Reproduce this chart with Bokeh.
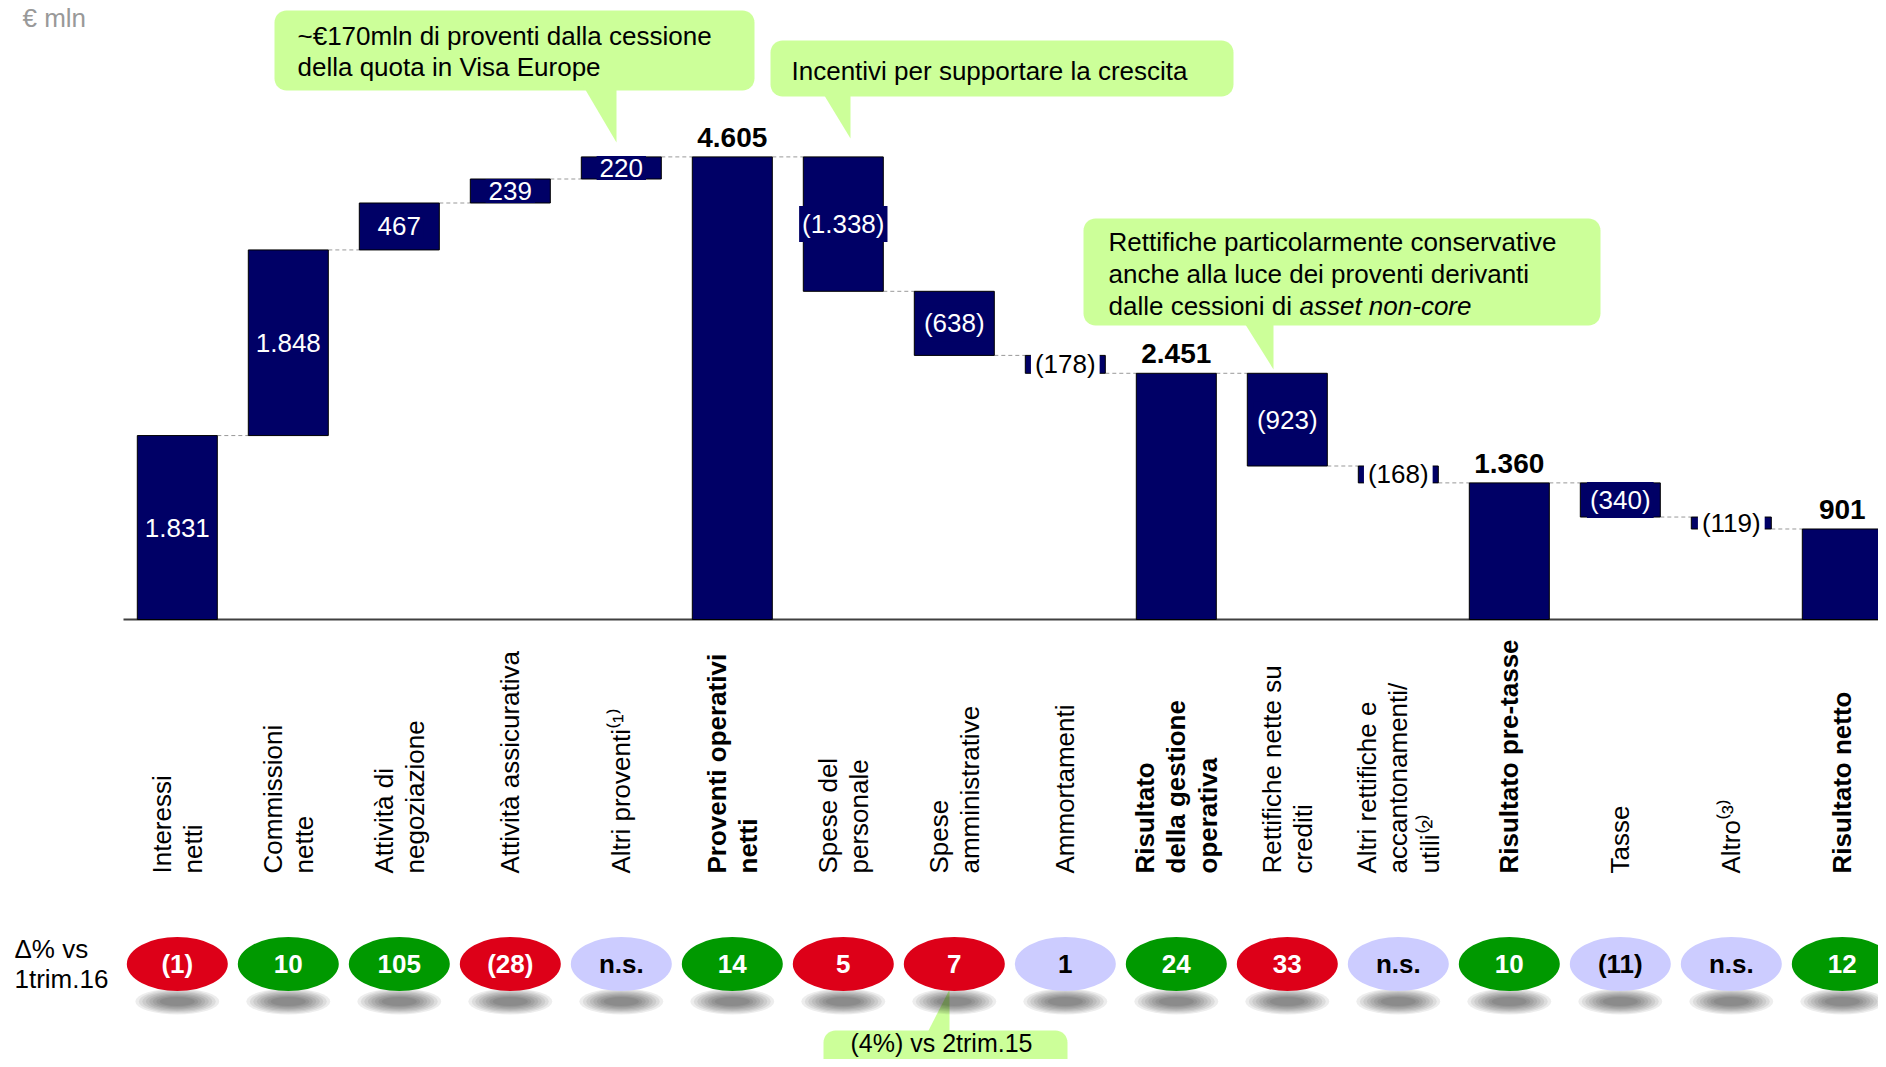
import math
from bokeh.plotting import figure
from bokeh.models import Range1d, ColumnDataSource
from bokeh.core.properties import value
from bokeh.embed import file_html
from bokeh.resources import INLINE

# ---------------- data ----------------
categories = [
    "Interessi\nnetti", "Commissioni\nnette", "Attività di\nnegoziazione",
    "Attività assicurativa", "Altri proventi⁽¹⁾", "Proventi operativi\nnetti",
    "Spese del\npersonale", "Spese\namministrative", "Ammortamenti",
    "Risultato\ndella gestione\noperativa", "Rettifiche nette su\ncrediti",
    "Altri rettifiche e\naccantonamenti/\nutili⁽²⁾", "Risultato pre-tasse",
    "Tasse", "Altro⁽³⁾", "Risultato netto",
]
values = [1831, 1848, 467, 239, 220, 4605, -1338, -638, -178, 2451, -923, -168, 1360, -340, -119, 901]
is_total = [False, False, False, False, False, True, False, False, False, True,
            False, False, True, False, False, True]
value_labels = ["1.831", "1.848", "467", "239", "220", "4.605", "(1.338)", "(638)", "(178)",
                "2.451", "(923)", "(168)", "1.360", "(340)", "(119)", "901"]
delta_labels = ["(1)", "10", "105", "(28)", "n.s.", "14", "5", "7", "1", "24", "33",
                "n.s.", "10", "(11)", "n.s.", "12"]
delta_kind = ["down", "up", "up", "down", "flat", "up", "down", "down", "flat", "up", "down",
              "flat", "up", "flat", "flat", "up"]
unit_label = "€ mln"
delta_title = "Δ% vs\n1trim.16"
callout1 = "~€170mln di proventi dalla cessione\ndella quota in Visa Europe"
callout2 = "Incentivi per supportare la crescita"
callout3_lines = ["Rettifiche particolarmente conservative",
                  "anche alla luce dei proventi derivanti", "dalle cessioni di "]
callout3_italic = "asset non-core"
callout4 = "(4%) vs 2trim.15"

# ---------------- layout helpers ----------------
FONT = "Liberation Sans"
NAVY = "#000066"
GREEN_BOX = "#CCFF99"
KIND_COLOR = {"up": "#009900", "down": "#DD0018", "flat": "#CCCCFF"}
KIND_TEXT = {"up": "white", "down": "white", "flat": "black"}

W, H, M = 1878, 1059, 0
X0, DX = 176.8, 111.0          # picture px of category 0 centre, px per category
BASE, KY = 619.0, 462.6 / 4605  # picture px of value 0, px per unit


def px2x(fx):
    return (fx - X0) / DX


def px2y(fy):
    return (BASE - fy) / KY


p = figure(width=W, height=H, output_backend="svg", toolbar_location=None,
           x_range=Range1d(px2x(M), px2x(M + W)), y_range=Range1d(px2y(M + H), px2y(M)),
           x_axis_location=None, y_axis_location=None, min_border=0)
p.grid.visible = False
p.outline_line_color = None
p.background_fill_color = "white"

# ---------------- waterfall geometry ----------------
n = len(values)
xs = list(range(n))
bottoms, tops, levels = [], [], []
run = 0
for v, t in zip(values, is_total):
    if t:
        b, tp = 0, v
        run = v
    else:
        b, tp = min(run, run + v), max(run, run + v)
        run += v
    bottoms.append(b)
    tops.append(tp)
    levels.append(run)

BW = 80 / DX

# connectors
p.segment(x0=[i + BW / 2 for i in xs[:-1]], x1=[i + 1 - BW / 2 for i in xs[:-1]],
          y0=levels[:-1], y1=levels[:-1], line_color="#999999", line_width=1, line_dash="4 3")

# baseline
p.segment(x0=[px2x(123)], x1=[px2x(M + W)], y0=[0], y1=[0], line_color="#404040", line_width=2)

# bars
p.vbar(x=xs, width=BW, bottom=bottoms, top=tops, fill_color=NAVY, line_color="black", line_width=1)

# value labels
inside = dict(x=[], y=[], t=[])
small = dict(x=[], y=[], t=[])
tot = dict(x=[], y=[], t=[])
for i in xs:
    if is_total[i]:
        tot["x"].append(i); tot["y"].append(tops[i]); tot["t"].append(value_labels[i])
    elif abs(values[i]) < 200:
        small["x"].append(i); small["y"].append((bottoms[i] + tops[i]) / 2); small["t"].append(value_labels[i])
    else:
        inside["x"].append(i); inside["y"].append((bottoms[i] + tops[i]) / 2); inside["t"].append(value_labels[i])

p.text(x="x", y="y", text="t", source=ColumnDataSource(inside), text_color="white",
       text_font=value(FONT), text_font_size="26px", text_align="center", text_baseline="middle",
       background_fill_color=NAVY, padding=3)
p.text(x="x", y="y", text="t", source=ColumnDataSource(small), text_color="black",
       text_font=value(FONT), text_font_size="26px", text_align="center", text_baseline="middle",
       background_fill_color="white", padding=4)
p.text(x="x", y="y", text="t", source=ColumnDataSource(tot), text_color="black",
       text_font=value(FONT), text_font_size="28px", text_font_style="bold",
       text_align="center", text_baseline="bottom", y_offset=-10)

# rotated category labels
lab_y = px2y(873)
norm = dict(x=[i for i in xs if not is_total[i]], t=[categories[i] for i in xs if not is_total[i]])
bold = dict(x=[i for i in xs if is_total[i]], t=[categories[i] for i in xs if is_total[i]])
norm["y"] = [lab_y] * len(norm["x"])
bold["y"] = [lab_y] * len(bold["x"])
p.text(x="x", y="y", text="t", source=ColumnDataSource(norm), angle=math.pi / 2,
       text_font=value(FONT), text_font_size="26px", text_color="black",
       text_align="left", text_baseline="middle", text_line_height=1.05)
p.text(x="x", y="y", text="t", source=ColumnDataSource(bold), angle=math.pi / 2,
       text_font=value(FONT), text_font_size="26px", text_color="black", text_font_style="bold",
       text_align="left", text_baseline="middle", text_line_height=1.05)


# ---------------- callouts ----------------
def rounded_box(x0, y0, x1, y1, r=12, k=8):
    pts = []
    for cx, cy, a0 in [(x1 - r, y0 + r, -90), (x1 - r, y1 - r, 0), (x0 + r, y1 - r, 90), (x0 + r, y0 + r, 180)]:
        for j in range(k + 1):
            a = math.radians(a0 + 90 * j / k)
            pts.append((cx + r * math.cos(a), cy + r * math.sin(a)))
    return [px2x(a) for a, b in pts], [px2y(b) for a, b in pts]


def callout(box, ptr):
    bx, by = rounded_box(*box)
    p.patch(bx, by, fill_color=GREEN_BOX, line_color=None)
    p.patch([px2x(a) for a, b in ptr], [px2y(b) for a, b in ptr], fill_color=GREEN_BOX, line_color=None)


callout((274, 10, 754, 90), [(583, 86), (616, 86), (616, 142)])
callout((770, 40, 1233, 96), [(822, 92), (850, 92), (850, 138)])
callout((1083, 218, 1600, 325), [(1243, 321), (1273, 321), (1273, 369)])
callout((823, 1030, 1067, 1100), [(926, 1034), (949, 1034), (949, 989)])

txt = dict(text_font=value(FONT), text_font_size="26px", text_color="black")
p.text(x=[px2x(297)], y=[px2y(51)], text=[callout1], text_align="left", text_baseline="middle",
       text_line_height=1.05, **txt)
p.text(x=[px2x(791)], y=[px2y(70)], text=[callout2], text_align="left", text_baseline="middle", **txt)
p.text(x=[px2x(1108)] * 3, y=[px2y(v) for v in (241, 273, 305.5)], text=callout3_lines,
       text_align="left", text_baseline="middle", **txt)
p.text(x=[px2x(1108 + 191)], y=[px2y(305.5)], text=[callout3_italic], text_align="left",
       text_baseline="middle", text_font_style="italic", **txt)

# ---------------- delta bubbles ----------------
BY = px2y(963.5)
for k in range(8):
    w = 84 - 7 * k
    h = 26 - 2.4 * k
    p.ellipse(x=xs, y=[px2y(1001)] * n, width=w / DX, height=h / KY,
              fill_color="black", fill_alpha=0.07, line_color=None)
p.text(x=[px2x(941)], y=[px2y(1042)], text=[callout4], text_align="center", text_baseline="middle",
       text_font=value(FONT), text_font_size="25px", text_color="black")
p.ellipse(x=xs, y=[BY] * n, width=101 / DX, height=54 / KY,
          fill_color=[KIND_COLOR[k] for k in delta_kind], line_color=None)
p.text(x=xs, y=[BY] * n, text=delta_labels, text_color=[KIND_TEXT[k] for k in delta_kind],
       text_font=value(FONT), text_font_size="26px", text_font_style="bold",
       text_align="center", text_baseline="middle")

p.text(x=[px2x(14)], y=[BY], text=[delta_title], text_align="left", text_baseline="middle",
       text_line_height=1.0, **txt)
p.text(x=[px2x(22)], y=[px2y(17)], text=[unit_label], text_align="left", text_baseline="alphabetic",
       text_font=value(FONT), text_font_size="26px", text_color="#999999")

open("out.html", "w").write(file_html(p, INLINE))
